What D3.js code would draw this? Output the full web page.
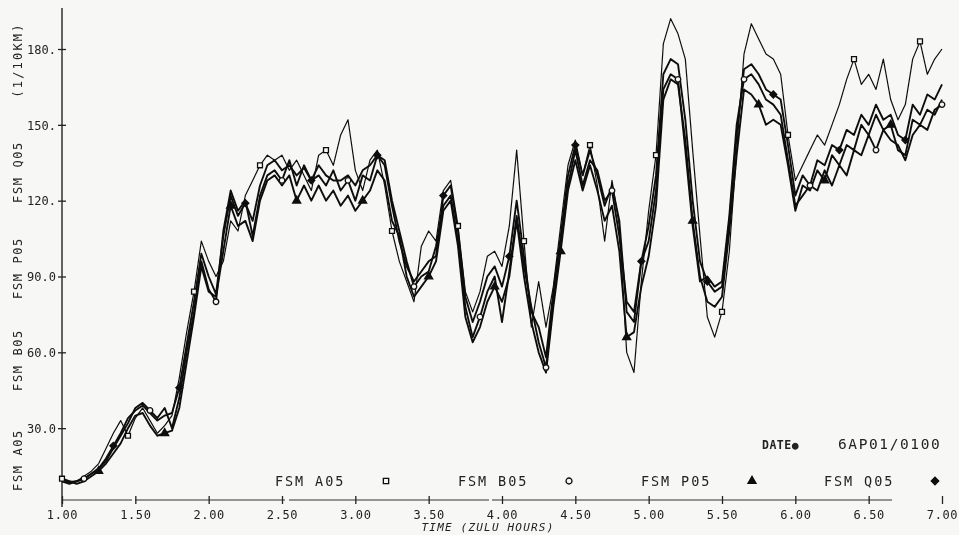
<!DOCTYPE html>
<html>
<head>
<meta charset="utf-8">
<script src="https://cdn.jsdelivr.net/npm/d3@7"></script>
<style>
  html, body { margin: 0; padding: 0; background: #f7f7f5; }
  svg { display: block; }
  text { font-family: "DejaVu Sans Mono", monospace; fill: #222; }
</style>
</head>
<body>
<div id="chart"></div>
<script>
// time in zulu hours, one reading every 0.05 h
const times = d3.range(121).map(i => +(1 + i * 0.05).toFixed(2));

const fsmA05 = [10,9,9,11,13,16,22,28,33,27,34,38,33,28,31,35,50,68,84,104,
  96,90,96,112,108,122,128,134,138,136,138,132,136,130,124,138,140,134,146,152,
  132,124,136,140,126,108,96,88,80,102,108,104,124,128,110,84,76,84,98,100,
  94,110,140,104,70,88,70,86,110,134,144,130,142,126,104,128,110,60,52,88,
  116,138,182,192,186,176,140,106,74,66,76,100,140,178,190,184,178,176,170,146,
  128,134,140,146,142,150,158,168,176,166,170,164,176,160,152,158,176,183,170,176,180];
const fsmB05 = [9,8,9,10,12,14,17,22,27,32,38,40,37,34,38,30,42,60,76,96,
  85,80,108,124,116,120,106,122,130,132,128,136,126,134,128,130,126,132,124,128,
  120,130,128,138,136,120,108,96,86,90,92,102,118,122,104,78,66,74,84,90,
  72,92,114,94,78,64,54,80,102,126,140,126,136,132,120,124,106,80,76,96,
  104,124,164,170,168,140,110,88,90,86,88,114,150,168,170,166,160,158,154,136,
  118,122,126,124,132,126,134,130,140,138,146,140,148,144,142,136,146,150,148,156,158];
const fsmP05 = [10,9,8,9,11,13,16,20,24,30,35,36,31,27,28,29,38,56,74,94,
  84,82,100,118,110,112,104,120,128,130,126,130,120,126,120,126,120,124,118,122,
  116,120,124,132,128,112,106,90,82,86,90,96,116,120,102,74,64,70,80,86,
  80,90,112,90,72,60,52,78,100,124,136,124,134,124,112,118,100,66,68,86,
  98,118,160,168,166,144,112,90,80,78,82,108,138,164,162,158,150,152,150,134,
  116,126,124,132,128,138,134,142,140,150,146,154,148,150,140,138,152,150,156,154,160];
const fsmQ05 = [9,8.5,9,10,12,14,18,23,28,34,37,39,36,33,35,36,46,63,80,99,
  90,83,106,122,114,119,112,126,134,136,132,134,130,133,128,134,130,128,128,130,
  126,132,134,138,134,118,104,94,88,92,96,98,122,126,108,82,72,80,90,94,
  86,98,120,98,76,70,58,84,106,130,142,130,140,130,118,126,112,76,72,96,
  110,130,170,176,174,152,120,96,88,84,86,112,146,172,174,170,164,162,160,142,
  122,130,126,136,134,142,140,148,146,154,150,158,152,154,146,144,158,154,162,160,166];

const seriesNames = ["FSM A05", "FSM B05", "FSM P05", "FSM Q05"];
const seriesValues = [fsmA05, fsmB05, fsmP05, fsmQ05];
const xTicks = [1, 1.5, 2, 2.5, 3, 3.5, 4, 4.5, 5, 5.5, 6, 6.5, 7];
const xTickLabels = ["1.00","1.50","2.00","2.50","3.00","3.50","4.00","4.50","5.00","5.50","6.00","6.50","7.00"];
const yTicks = [30, 60, 90, 120, 150, 180];
const yTickLabels = ["30.0","60.0","90.0","120.","150.","180."];
const yTitleParts = ["FSM A05", "FSM B05", "FSM P05", "FSM Q05", "(1/10KM)"];
const dateLabel = "DATE\u25CF", dateValue = "6AP01/0100";

const W = 959, H = 535;
const x = d3.scaleLinear().domain([1, 7]).range([62, 942]);
const y = d3.scaleLinear().domain([0, 180]).range([504, 49]);
const axisY = 500;
const ink = '#111', paper = '#f7f7f5';

const svg = d3.select('#chart').append('svg').attr('width', W).attr('height', H);
svg.append('defs').append('filter').attr('id', 'scan')
  .append('feGaussianBlur').attr('stdDeviation', 0.45);
svg.append('rect').attr('width', W).attr('height', H).attr('fill', paper);
const g = svg.append('g').attr('filter', 'url(#scan)');

// y axis
g.append('line').attr('x1', 62).attr('x2', 62).attr('y1', 8).attr('y2', axisY + 7)
  .attr('stroke', '#222').attr('stroke-width', 1.4);
const yAxis = d3.axisLeft(y).tickValues(yTicks).tickFormat((d, i) => yTickLabels[i]).tickSize(4).tickPadding(2);
const ya = g.append('g').attr('transform', 'translate(62,0)').call(yAxis);
ya.select('.domain').remove();
ya.selectAll('line').attr('x1', -4).attr('x2', 4).attr('stroke', '#222').attr('stroke-width', 1.3);
ya.selectAll('text').attr('font-size', 12).attr('font-family', '"DejaVu Sans Mono", monospace')
  .attr('fill', '#333').attr('dy', '0.35em');

// x axis
g.append('line').attr('x1', 62).attr('x2', 942).attr('y1', axisY).attr('y2', axisY)
  .attr('stroke', '#333').attr('stroke-width', 1.1).attr('stroke-dasharray', '70,3,150,4,200,3,400');
const xAxis = d3.axisBottom(x).tickValues(xTicks).tickFormat((d, i) => xTickLabels[i]).tickSize(4).tickPadding(6);
const xa = g.append('g').attr('transform', `translate(0,${axisY})`).call(xAxis);
xa.select('.domain').remove();
xa.selectAll('line').attr('y1', -4).attr('y2', 4).attr('stroke', '#222').attr('stroke-width', 1.3);
xa.selectAll('text').attr('font-size', 12).attr('font-family', '"DejaVu Sans Mono", monospace')
  .attr('fill', '#333').attr('letter-spacing', 0.6);

// y title, written in pieces up the left side
const yTitleAt = [460, 360, 268, 172, 60];
yTitleParts.forEach((t, i) => {
  g.append('text').attr('transform', `translate(22,${yTitleAt[i]}) rotate(-90)`)
    .attr('text-anchor', 'middle').attr('font-size', 12).attr('letter-spacing', i === 4 ? 2.2 : 1.6)
    .attr('fill', '#333').text(t);
});

// x title (faint, cut at the bottom)
g.append('text').attr('x', 488).attr('y', 531).attr('text-anchor', 'middle')
  .attr('font-size', 11).attr('font-style', 'italic').attr('letter-spacing', 1.2)
  .attr('fill', '#777').text('TIME (ZULU HOURS)');

// lines
const line = d3.line().x((d, i) => x(times[i])).y(d => y(d));
const diamond = { draw(ctx, size) { const r = Math.sqrt(size / 2); ctx.moveTo(0, -r); ctx.lineTo(r, 0); ctx.lineTo(0, r); ctx.lineTo(-r, 0); ctx.closePath(); } };
const symbols = [d3.symbolSquare, d3.symbolCircle, d3.symbolTriangle, diamond];
const filled = [false, false, true, true];
const markStep = 9, markOffset = [0, 3, 5, 7];

seriesValues.forEach((vals, s) => {
  g.append('path').datum(vals).attr('d', line)
    .attr('fill', 'none').attr('stroke', ink)
    .attr('stroke-width', s === 0 ? 1.2 : 1.9).attr('stroke-linejoin', 'round');
});
seriesValues.forEach((vals, s) => {
  const sym = d3.symbol().type(symbols[s]).size(s === 2 ? 28 : 24);
  g.append('g').selectAll('path').data(vals.map((v, i) => [times[i], v]).filter((d, i) => i % markStep === markOffset[s]))
    .enter().append('path')
    .attr('transform', d => `translate(${x(d[0])},${y(d[1])})`)
    .attr('d', sym)
    .attr('fill', filled[s] ? ink : paper)
    .attr('stroke', ink).attr('stroke-width', 1.3);
});

// legend
const legX = [275, 458, 641, 824];
seriesNames.forEach((n, s) => {
  g.append('text').attr('x', legX[s]).attr('y', 486).attr('font-size', 13.5)
    .attr('letter-spacing', 1.9).attr('fill', '#333').text(n);
  g.append('path').attr('transform', `translate(${legX[s] + 111},481)`)
    .attr('d', d3.symbol().type(symbols[s]).size(28))
    .attr('fill', filled[s] ? ink : paper).attr('stroke', ink).attr('stroke-width', 1.3);
});

// date
g.append('text').attr('x', 762).attr('y', 449).attr('font-size', 11.5).attr('font-weight', 'bold')
  .attr('letter-spacing', 0.5).attr('fill', '#333').text(dateLabel);
g.append('text').attr('x', 838).attr('y', 449).attr('font-size', 14.5)
  .attr('letter-spacing', 1.6).attr('fill', '#222').text(dateValue);
</script>
</body>
</html>
